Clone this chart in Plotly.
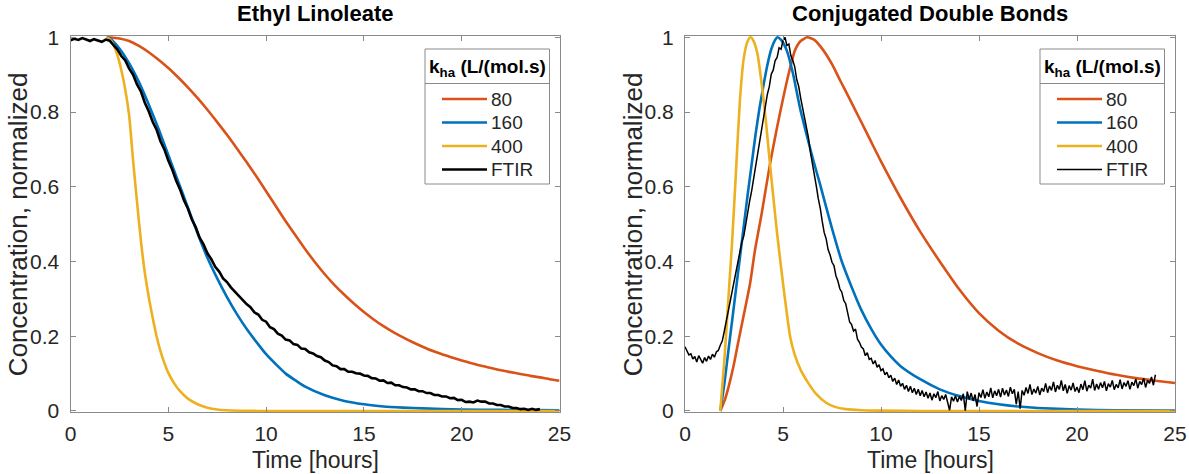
import numpy as np
import plotly.graph_objects as go

# ---------------- Ethyl Linoleate (left panel) ----------------
el_k80_t = [1.85, 2.5, 3.0, 3.5, 4.0, 4.5, 5.0, 5.5, 6.0, 6.5, 7.0, 7.5, 8.0, 8.5, 9.0, 9.5,
            10.0, 10.5, 11.0, 11.5, 12.0, 12.5, 13.0, 13.5, 14.0, 14.5, 15.0, 15.5, 16.0, 16.5,
            17.0, 17.5, 18.0, 18.5, 19.0, 19.5, 20.0, 20.5, 21.0, 21.5, 22.0, 22.5, 23.0, 23.5,
            24.0, 24.5, 25.0]
el_k80 = [1.0, 0.997, 0.99, 0.977, 0.96, 0.94, 0.918, 0.893, 0.866, 0.837, 0.806, 0.773, 0.739,
          0.703, 0.666, 0.628, 0.588, 0.548, 0.508, 0.47, 0.433, 0.398, 0.366, 0.337, 0.311,
          0.287, 0.265, 0.245, 0.227, 0.211, 0.197, 0.184, 0.172, 0.161, 0.152, 0.143, 0.135,
          0.128, 0.121, 0.115, 0.109, 0.104, 0.099, 0.094, 0.09, 0.085, 0.081]

el_k160_t = [1.85, 2.0, 2.5, 3.0, 3.5, 4.0, 4.5, 5.0, 5.5, 6.0, 6.5, 7.0, 7.5, 8.0, 8.5, 9.0,
             9.5, 10.0, 10.5, 11.0, 11.5, 12.0, 13.0, 14.0, 15.0, 16.0, 17.0, 18.0, 20.0, 22.0,
             25.0]
el_k160 = [1.0, 0.997, 0.97, 0.93, 0.88, 0.82, 0.755, 0.685, 0.615, 0.545, 0.475, 0.41, 0.355,
           0.305, 0.26, 0.22, 0.185, 0.152, 0.125, 0.1, 0.082, 0.065, 0.042, 0.027, 0.018,
           0.012, 0.009, 0.007, 0.004, 0.003, 0.002]

el_k400_t = [1.85, 2.0, 2.2, 2.4, 2.6, 2.8, 3.0, 3.2, 3.4, 3.6, 3.8, 4.0, 4.2, 4.4, 4.6, 4.8,
             5.0, 5.3, 5.6, 6.0, 6.5, 7.0, 7.5, 8.0, 9.0, 10.0, 25.0]
el_k400 = [1.0, 0.995, 0.98, 0.952, 0.912, 0.86, 0.79, 0.67, 0.56, 0.455, 0.37, 0.305, 0.25,
           0.2, 0.16, 0.128, 0.102, 0.074, 0.053, 0.033, 0.018, 0.009, 0.004, 0.002, 0.0005,
           0.0, 0.0]

# FTIR measurement, sampled every 0.2 h from 0 to 24 h
el_ftir_t0, el_ftir_dt = 0.0, 0.2
el_ftir = [0.992, 0.996, 0.993, 0.998, 0.994, 0.990, 0.995, 0.992, 0.988, 0.994,
           0.991, 0.979, 0.967, 0.950, 0.938, 0.916, 0.900, 0.874, 0.855, 0.825,
           0.802, 0.774, 0.753, 0.722, 0.700, 0.670, 0.646, 0.617, 0.593, 0.564,
           0.542, 0.513, 0.492, 0.464, 0.446, 0.422, 0.406, 0.386, 0.373, 0.355,
           0.345, 0.331, 0.320, 0.307, 0.298, 0.286, 0.278, 0.264, 0.258, 0.244,
           0.239, 0.224, 0.219, 0.207, 0.202, 0.191, 0.189, 0.179, 0.177, 0.167,
           0.166, 0.157, 0.154, 0.147, 0.144, 0.135, 0.131, 0.122, 0.120, 0.112,
           0.112, 0.105, 0.105, 0.101, 0.100, 0.095, 0.094, 0.088, 0.087, 0.081,
           0.082, 0.075, 0.076, 0.069, 0.069, 0.064, 0.063, 0.058, 0.058, 0.053,
           0.053, 0.048, 0.048, 0.043, 0.043, 0.039, 0.039, 0.034, 0.035, 0.029,
           0.030, 0.024, 0.025, 0.023, 0.028, 0.025, 0.025, 0.020, 0.020, 0.016,
           0.016, 0.012, 0.012, 0.008, 0.008, 0.005, 0.006, 0.003, 0.006, 0.003,
           0.005]

# ---------------- Conjugated Double Bonds (right panel) ----------------
cdb_k80_t = [1.8, 2.0, 2.2, 2.47, 2.7, 2.98, 3.32, 3.57, 3.91, 4.34, 4.7, 5.02, 5.3, 5.61, 5.9,
             6.24, 6.6, 7.06, 7.5, 7.91, 8.4, 8.93, 9.5, 10.0, 11.0, 12.0, 13.0, 14.0, 15.0,
             16.0, 17.0, 18.0, 19.0, 20.0, 21.0, 22.0, 23.0, 24.0, 25.0]
cdb_k80 = [0.0, 0.025, 0.06, 0.119, 0.18, 0.252, 0.341, 0.43, 0.528, 0.662, 0.76, 0.84, 0.905,
           0.965, 0.99, 1.0, 0.993, 0.965, 0.928, 0.885, 0.835, 0.78, 0.72, 0.668, 0.57, 0.48,
           0.40, 0.325, 0.262, 0.215, 0.18, 0.155, 0.135, 0.12, 0.108, 0.097, 0.088, 0.081,
           0.075]

cdb_k160_t = [1.8, 2.0, 2.2, 2.4, 2.6, 2.8, 3.0, 3.2, 3.4, 3.6, 3.8, 4.0, 4.2, 4.4, 4.6, 4.71,
              4.9, 5.19, 5.5, 5.87, 6.2, 6.55, 6.9, 7.23, 7.6, 8.0, 8.5, 9.0, 9.5, 10.0, 10.5,
              11.0, 12.0, 13.0, 14.0, 15.0, 16.0, 17.0, 18.0, 20.0, 22.0, 25.0]
cdb_k160 = [0.0, 0.07, 0.155, 0.24, 0.325, 0.41, 0.495, 0.58, 0.66, 0.74, 0.81, 0.87, 0.925,
            0.968, 0.993, 1.0, 0.993, 0.965, 0.905, 0.81, 0.74, 0.67, 0.605, 0.54, 0.47,
            0.40, 0.332, 0.27, 0.22, 0.178, 0.146, 0.12, 0.085, 0.058, 0.04, 0.027, 0.018,
            0.012, 0.008, 0.004, 0.002, 0.001]

cdb_k400_t = [1.8, 2.0, 2.2, 2.4, 2.6, 2.8, 3.0, 3.2, 3.35, 3.5, 3.7, 3.9, 4.1, 4.3, 4.5, 4.7,
              4.9, 5.1, 5.36, 5.6, 5.9, 6.3, 6.7, 7.2, 7.65, 8.2, 9.0, 10.0, 12.0, 25.0]
cdb_k400 = [0.0, 0.13, 0.29, 0.45, 0.64, 0.83, 0.945, 0.99, 1.0, 0.99, 0.955, 0.88, 0.79, 0.68,
            0.575, 0.475, 0.385, 0.3, 0.2, 0.15, 0.11, 0.074, 0.045, 0.022, 0.011, 0.005,
            0.002, 0.001, 0.0, 0.0]

# FTIR measurement, sampled every 0.1 h from 0 to 24 h
cdb_ftir_t0, cdb_ftir_dt = 0.0, 0.1
cdb_ftir = [0.172, 0.161, 0.150, 0.153, 0.139, 0.146, 0.131, 0.148, 0.137, 0.128,
            0.143, 0.133, 0.147, 0.138, 0.152, 0.144, 0.158, 0.162, 0.176, 0.187,
            0.212, 0.238, 0.271, 0.296, 0.322, 0.349, 0.371, 0.402, 0.418, 0.452,
            0.468, 0.503, 0.531, 0.562, 0.589, 0.622, 0.655, 0.691, 0.718, 0.748,
            0.792, 0.815, 0.847, 0.868, 0.901, 0.912, 0.938, 0.946, 0.972, 0.968,
            0.991, 1.000, 0.978, 0.982, 0.951, 0.938, 0.921, 0.887, 0.869, 0.838,
            0.811, 0.789, 0.752, 0.731, 0.692, 0.664, 0.631, 0.602, 0.568, 0.543,
            0.508, 0.478, 0.461, 0.432, 0.418, 0.398, 0.389, 0.362, 0.348, 0.327,
            0.318, 0.296, 0.287, 0.262, 0.238, 0.231, 0.214, 0.219, 0.192, 0.184,
            0.171, 0.166, 0.148, 0.156, 0.138, 0.141, 0.126, 0.135, 0.117, 0.124,
            0.108, 0.113, 0.097, 0.104, 0.089, 0.096, 0.079, 0.088, 0.071, 0.083,
            0.066, 0.074, 0.058, 0.069, 0.052, 0.066, 0.049, 0.061, 0.044, 0.058,
            0.041, 0.055, 0.038, 0.051, 0.034, 0.048, 0.029, 0.046, 0.036, 0.052,
            0.027, 0.041, 0.031, 0.044, 0.022, 0.002, 0.038, 0.026, 0.041, 0.024,
            0.039, 0.028, 0.046, 0.001, 0.052, 0.031, 0.048, 0.027, 0.044, 0.012,
            0.049, 0.036, 0.057, 0.034, 0.051, 0.038, 0.062, 0.035, 0.054, 0.041,
            0.058, 0.037, 0.061, 0.043, 0.056, 0.039, 0.064, 0.046, 0.058, 0.018,
            0.052, 0.006, 0.055, 0.042, 0.063, 0.047, 0.071, 0.044, 0.059, 0.048,
            0.066, 0.043, 0.061, 0.052, 0.074, 0.049, 0.067, 0.055, 0.078, 0.051,
            0.069, 0.058, 0.082, 0.054, 0.071, 0.047, 0.068, 0.056, 0.075, 0.052,
            0.064, 0.049, 0.072, 0.057, 0.081, 0.053, 0.069, 0.061, 0.085, 0.055,
            0.072, 0.058, 0.076, 0.062, 0.079, 0.054, 0.073, 0.064, 0.082, 0.057,
            0.071, 0.062, 0.084, 0.059, 0.076, 0.066, 0.081, 0.058, 0.077, 0.068,
            0.086, 0.061, 0.079, 0.071, 0.088, 0.063, 0.082, 0.074, 0.091, 0.069,
            0.097]

series_names = ["80", "160", "400", "FTIR"]
x_ticks = [0, 5, 10, 15, 20, 25]
y_ticks = [0, 0.2, 0.4, 0.6, 0.8, 1]
y_tick_text = ["0", "0.2", "0.4", "0.6", "0.8", "1"]
legend_header = "<b>k<sub>ha</sub> (L/(mol.s)</b>"

C_ORANGE = "#D95319"
C_BLUE = "#0072BD"
C_YELLOW = "#EDB120"
C_BLACK = "#000000"
FONT = "Liberation Sans, Arial, Helvetica, sans-serif"
TEXT_COLOR = "#262626"
AXIS_COLOR = "#8a8a8a"
MODEL_WIDTH = 2.6

W, H = 1189, 474


def grid(t0, dt, n):
    return [round(t0 + i * dt, 3) for i in range(n)]


panels = [
    dict(xa="x", ya="y",
         models=[(el_k80_t, el_k80, C_ORANGE), (el_k160_t, el_k160, C_BLUE),
                 (el_k400_t, el_k400, C_YELLOW)],
         ftir=(grid(el_ftir_t0, el_ftir_dt, len(el_ftir)), el_ftir, 2.6),
         px=(70.5, 559.5), legend_px=(425.0, 549.5),
         title="Ethyl Linoleate", ylabel_px=18),
    dict(xa="x2", ya="y2",
         models=[(cdb_k80_t, cdb_k80, C_ORANGE), (cdb_k160_t, cdb_k160, C_BLUE),
                 (cdb_k400_t, cdb_k400, C_YELLOW)],
         ftir=(grid(cdb_ftir_t0, cdb_ftir_dt, len(cdb_ftir)), cdb_ftir, 1.5),
         px=(685.0, 1175.0), legend_px=(1040.0, 1164.5),
         title="Conjugated Double Bonds", ylabel_px=633),
]

fig = go.Figure()

for p in panels:
    for (tx, vy, col), name in zip(p["models"], series_names[:3]):
        fig.add_trace(go.Scatter(
            x=tx, y=vy, mode="lines", name=name, xaxis=p["xa"], yaxis=p["ya"],
            showlegend=False,
            line=dict(color=col, width=MODEL_WIDTH, shape="spline", smoothing=0.6)))
    tx, vy, lw = p["ftir"]
    fig.add_trace(go.Scatter(
        x=tx, y=vy, mode="lines", name=series_names[3], xaxis=p["xa"], yaxis=p["ya"],
        showlegend=False, line=dict(color=C_BLACK, width=lw)))

# Plot area: value 1 sits at y=37.3 px, value 0 at y=411 px; a small pad
# keeps full line width visible for curves lying on 0 or 1.
Y_PAD = 0.004
y0_px, y1_px = 411.0, 37.3
per_unit = y0_px - y1_px
bot_px = y0_px + Y_PAD * per_unit
top_px = y1_px - Y_PAD * per_unit
ydom = [1 - bot_px / H, 1 - top_px / H]

axis_common = dict(
    showline=True, linecolor=AXIS_COLOR, linewidth=1, mirror="ticks",
    ticks="inside", ticklen=5, tickcolor=AXIS_COLOR, showgrid=False, zeroline=False,
    automargin=False, tickfont=dict(family=FONT, size=21, color=TEXT_COLOR),
)

layout_axes = {}
for i, p in enumerate(panels):
    sfx = "" if i == 0 else str(i + 1)
    a, b = p["px"]
    layout_axes["xaxis" + sfx] = dict(domain=[a / W, b / W], range=[0, 25], tickvals=x_ticks,
                                      anchor="y" + sfx, ticklabelstandoff=2, **axis_common)
    layout_axes["yaxis" + sfx] = dict(domain=ydom, range=[-Y_PAD, 1 + Y_PAD], tickvals=y_ticks,
                                      ticktext=y_tick_text, anchor="x" + sfx,
                                      ticklabelstandoff=6, **axis_common)

fig.update_layout(
    template="none",
    width=W, height=H, margin=dict(l=0, r=0, t=0, b=0, pad=0),
    paper_bgcolor="white", plot_bgcolor="white",
    showlegend=False,
    **layout_axes,
)

# Titles and axis labels
for p in panels:
    a, b = p["px"]
    fig.add_annotation(text="<b>%s</b>" % p["title"], xref="paper", yref="paper",
                       x=(a + b) / 2 / W, y=1 - 14 / H, showarrow=False,
                       xanchor="center", yanchor="middle",
                       font=dict(family=FONT, size=22, color=C_BLACK))
    fig.add_annotation(text="Time [hours]", xref="paper", yref="paper",
                       x=(a + b) / 2 / W, y=0, showarrow=False, borderpad=0,
                       xanchor="center", yanchor="bottom",
                       font=dict(family=FONT, size=23, color=TEXT_COLOR))
    fig.add_annotation(text="Concentration, normalized", xref="paper", yref="paper",
                       x=p["ylabel_px"] / W, y=1 - (y0_px + y1_px) / 2 / H, showarrow=False,
                       textangle=-90, xanchor="center", yanchor="middle",
                       font=dict(family=FONT, size=26, color=TEXT_COLOR))

# Boxed legends with a header row
LEG_TOP, LEG_SEP, LEG_BOT = 49.0, 83.5, 184.0
ROW_Y = [99.0, 122.5, 146.0, 169.5]
for p in panels:
    la, lb = p["legend_px"]
    fig.add_shape(type="rect", xref="paper", yref="paper",
                  x0=la / W, x1=lb / W, y0=1 - LEG_BOT / H, y1=1 - LEG_TOP / H,
                  fillcolor="white", line=dict(color=AXIS_COLOR, width=1))
    fig.add_shape(type="line", xref="paper", yref="paper",
                  x0=la / W, x1=lb / W, y0=1 - LEG_SEP / H, y1=1 - LEG_SEP / H,
                  line=dict(color=AXIS_COLOR, width=1))
    fig.add_annotation(text=legend_header, xref="paper", yref="paper",
                       x=(la + lb) / 2 / W, y=1 - 68 / H, showarrow=False,
                       xanchor="center", yanchor="middle",
                       font=dict(family=FONT, size=19, color=C_BLACK))
    colors = [m[2] for m in p["models"]] + [C_BLACK]
    widths = [MODEL_WIDTH] * 3 + [p["ftir"][2]]
    for name, col, lw, ry in zip(series_names, colors, widths, ROW_Y):
        fig.add_shape(type="line", xref="paper", yref="paper",
                      x0=(la + 17) / W, x1=(la + 62) / W, y0=1 - ry / H, y1=1 - ry / H,
                      line=dict(color=col, width=lw))
        fig.add_annotation(text=name, xref="paper", yref="paper",
                           x=(la + 64) / W, y=1 - ry / H, showarrow=False,
                           xanchor="left", yanchor="middle",
                           font=dict(family=FONT, size=19, color=TEXT_COLOR))

fig.write_html("out.html")
